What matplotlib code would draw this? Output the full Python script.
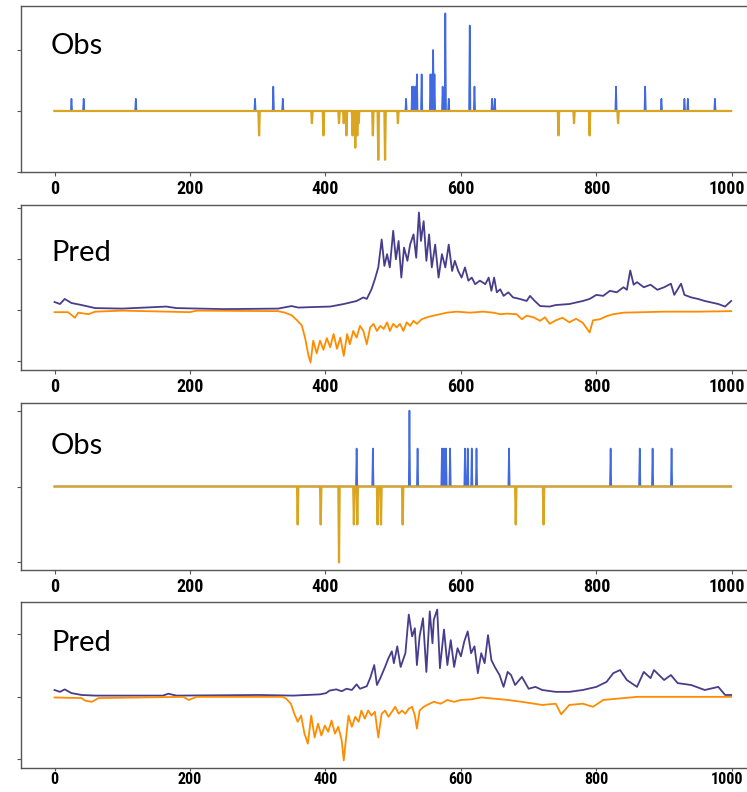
import numpy as np
import matplotlib
matplotlib.use('Agg')
import matplotlib.pyplot as plt
import matplotlib.transforms as mtransforms

# ---------------------------------------------------------------------
# data
# ---------------------------------------------------------------------
n_steps = 1000

# panel 1 (Obs): spike positions and counts
obs1_up_x = [25, 43, 120, 296, 323, 337, 519, 528, 530, 533, 535, 542, 555, 557, 559, 561,
             573, 577, 582, 613, 620, 646, 650, 829, 872, 896, 930, 935, 975]
obs1_up_n = [1, 1, 1, 1, 2, 1, 1, 2, 2, 2, 3, 3, 3, 3, 5, 3,
             2, 8, 1, 7, 2, 1, 1, 2, 2, 1, 1, 1, 1]
obs1_dn_x = [302, 380, 397, 420, 427, 431, 440, 444, 447, 449, 470, 478, 488, 507, 744, 767, 790, 832]
obs1_dn_n = [2, 1, 2, 1, 1, 2, 2, 3, 2, 1, 2, 4, 4, 1, 2, 1, 2, 1]

# panel 3 (Obs)
obs2_up_x = [446, 470, 524, 536, 572, 575, 578, 584, 606, 610, 616, 623, 671, 821, 864, 883, 911]
obs2_up_n = [1, 1, 2, 1, 1, 1, 1, 1, 1, 1, 1, 1, 1, 1, 1, 1, 1]
obs2_dn_x = [359, 393, 420, 442, 447, 477, 482, 514, 681, 722]
obs2_dn_n = [1, 1, 2, 1, 1, 1, 1, 1, 1, 1]

# panel 2 (Pred)
pred1_pos_x = [0, 8, 15, 25, 40, 60, 100, 165, 180, 250, 330, 350, 360, 380, 407, 427, 446, 456,
               461, 468, 473, 478, 483, 487, 491, 495, 500, 504, 508, 512, 516, 521, 525, 530,
               534, 538, 541, 545, 549, 553, 557, 562, 567, 572, 577, 582, 587, 591, 596, 601,
               606, 611, 616, 621, 628, 636, 641, 645, 649, 653, 658, 663, 670, 677, 687, 697,
               702, 709, 717, 731, 740, 760, 780, 790, 800, 810, 820, 830, 840, 845, 850, 855,
               860, 870, 880, 890, 900, 910, 915, 925, 930, 940, 950, 960, 970, 980, 990, 999]
pred1_pos_y = [0.16, 0.12, 0.22, 0.14, 0.10, 0.04, 0.03, 0.07, 0.04, 0.02, 0.03, 0.08, 0.05, 0.06,
               0.07, 0.12, 0.18, 0.25, 0.22, 0.41, 0.61, 0.84, 1.39, 0.87, 1.10, 0.84, 1.56, 1.00,
               1.36, 0.64, 1.23, 0.97, 1.29, 1.49, 1.03, 1.92, 1.36, 1.75, 0.97, 1.49, 0.84, 1.29,
               0.64, 1.10, 0.84, 1.29, 0.77, 0.97, 0.77, 0.64, 0.84, 0.58, 0.64, 0.51, 0.58, 0.51,
               0.64, 0.38, 0.64, 0.35, 0.41, 0.28, 0.35, 0.25, 0.22, 0.18, 0.28, 0.18, 0.08, 0.07,
               0.10, 0.12, 0.18, 0.22, 0.30, 0.28, 0.38, 0.35, 0.45, 0.40, 0.78, 0.50, 0.55, 0.45,
               0.50, 0.40, 0.45, 0.52, 0.30, 0.52, 0.30, 0.25, 0.22, 0.18, 0.15, 0.12, 0.07, 0.18]
pred1_neg_x = [0, 20, 30, 35, 50, 60, 100, 200, 210, 330, 340, 350, 358, 365, 370, 375, 378, 382,
               387, 392, 397, 402, 407, 412, 417, 422, 427, 432, 436, 441, 446, 451, 456, 461,
               466, 471, 476, 481, 486, 491, 495, 500, 505, 510, 515, 520, 525, 530, 535, 542,
               550, 559, 569, 579, 594, 613, 633, 648, 658, 668, 682, 690, 697, 707, 717, 724,
               731, 740, 750, 760, 770, 780, 790, 795, 805, 815, 825, 840, 870, 900, 950, 999]
pred1_neg_y = [-0.04, -0.04, -0.15, -0.05, -0.08, -0.03, -0.01, -0.04, -0.01, -0.02, -0.05, -0.10,
               -0.20, -0.30, -0.55, -0.90, -1.03, -0.60, -0.85, -0.60, -0.78, -0.55, -0.73, -0.47,
               -0.76, -0.54, -0.90, -0.47, -0.67, -0.41, -0.54, -0.31, -0.41, -0.67, -0.34, -0.27,
               -0.41, -0.31, -0.37, -0.24, -0.41, -0.27, -0.34, -0.27, -0.41, -0.24, -0.31, -0.21,
               -0.27, -0.18, -0.14, -0.11, -0.08, -0.05, -0.03, -0.05, -0.03, -0.05, -0.08, -0.07,
               -0.08, -0.18, -0.11, -0.14, -0.21, -0.14, -0.27, -0.20, -0.15, -0.24, -0.17, -0.25,
               -0.44, -0.20, -0.18, -0.12, -0.08, -0.05, -0.04, -0.03, -0.03, -0.02]

# panel 4 (Pred)
pred2_pos_x = [0, 8, 15, 25, 40, 60, 160, 168, 180, 302, 352, 392, 401, 406, 416, 424, 431, 439,
               446, 451, 461, 466, 472, 476, 481, 488, 493, 498, 501, 506, 511, 518, 523, 528,
               532, 535, 539, 544, 549, 554, 558, 560, 565, 569, 575, 580, 585, 590, 595, 600,
               605, 610, 615, 620, 625, 630, 635, 640, 645, 650, 657, 663, 669, 674, 680, 690,
               700, 710, 720, 740, 760, 780, 800, 815, 825, 835, 845, 860, 870, 880, 885, 900,
               910, 920, 940, 960, 980, 990, 999]
pred2_pos_y = [0.11, 0.08, 0.12, 0.06, 0.03, 0.02, 0.02, 0.05, 0.02, 0.03, 0.02, 0.04, 0.06, 0.10,
               0.12, 0.09, 0.13, 0.11, 0.20, 0.13, 0.17, 0.30, 0.51, 0.19, 0.30, 0.48, 0.62, 0.73,
               0.54, 0.81, 0.48, 0.70, 1.32, 0.97, 1.10, 0.51, 0.97, 1.26, 0.40, 1.37, 0.86, 1.24,
               1.40, 0.46, 1.08, 0.51, 0.91, 0.48, 0.78, 0.65, 0.89, 1.05, 0.70, 0.81, 0.38, 0.70,
               0.54, 0.99, 0.59, 0.48, 0.35, 0.16, 0.40, 0.35, 0.19, 0.32, 0.13, 0.16, 0.11, 0.08,
               0.08, 0.11, 0.16, 0.24, 0.38, 0.43, 0.27, 0.16, 0.40, 0.30, 0.43, 0.27, 0.35, 0.22,
               0.19, 0.11, 0.16, 0.03, 0.03]
pred2_neg_x = [0, 40, 45, 55, 65, 190, 198, 210, 300, 337, 342, 349, 354, 359, 364, 369, 374,
               379, 384, 389, 394, 399, 404, 409, 414, 419, 424, 427, 430, 434, 439, 444, 449,
               453, 458, 463, 468, 473, 478, 483, 488, 493, 498, 503, 508, 513, 518, 523, 528,
               532, 535, 539, 545, 550, 560, 570, 580, 590, 600, 615, 630, 650, 669, 690, 720,
               740, 748, 760, 780, 795, 810, 830, 860, 999]
pred2_neg_y = [-0.01, -0.02, -0.06, -0.08, -0.02, 0.0, -0.05, 0.0, 0.0, 0.0, -0.03, -0.11, -0.27,
               -0.40, -0.30, -0.59, -0.75, -0.30, -0.65, -0.43, -0.62, -0.46, -0.56, -0.38, -0.59,
               -0.48, -0.70, -1.02, -0.70, -0.30, -0.48, -0.32, -0.40, -0.22, -0.35, -0.22, -0.30,
               -0.24, -0.65, -0.27, -0.22, -0.32, -0.24, -0.16, -0.27, -0.22, -0.27, -0.19, -0.16,
               -0.30, -0.51, -0.22, -0.16, -0.13, -0.08, -0.11, -0.05, -0.08, -0.05, -0.04, -0.01,
               -0.03, -0.05, -0.08, -0.13, -0.11, -0.28, -0.13, -0.11, -0.16, -0.05, -0.03, 0.0, 0.0]

panel_labels = ["Obs", "Pred", "Obs", "Pred"]
xtick_vals = [0, 200, 400, 600, 800, 1000]
ytick_vals = [[-5, 0, 5], [-1, 0, 1, 2], [-2, 0, 2], [-1, 0, 1]]


def spikes(xs, ns, sign):
    arr = np.zeros(n_steps)
    for x, n in zip(xs, ns):
        arr[x] = sign * n
    return arr


# ---------------------------------------------------------------------
W, H = 747, 792
fig = plt.figure(figsize=(W / 100, H / 100), dpi=100)

# panel pixel extents (top, bottom)
extents = [(6, 172), (205, 370), (403, 570), (602, 768)]
left_px, right_px = 20.7, 765

axs = []
for top, bot in extents:
    ax = fig.add_axes([left_px / W, 1 - bot / H, (right_px - left_px) / W, (bot - top) / H])
    axs.append(ax)

t = np.arange(n_steps)

axs[0].plot(t, spikes(obs1_up_x, obs1_up_n, 1), color="royalblue", lw=1.2)
axs[0].plot(t, spikes(obs1_dn_x, obs1_dn_n, -1), color="goldenrod", lw=1.6)

axs[1].plot(pred1_pos_x, pred1_pos_y, color="darkslateblue", lw=1.3)
axs[1].plot(pred1_neg_x, pred1_neg_y, color="darkorange", lw=1.3)

axs[2].plot(t, spikes(obs2_up_x, obs2_up_n, 1), color="royalblue", lw=1.2)
axs[2].plot(t, spikes(obs2_dn_x, obs2_dn_n, -1), color="goldenrod", lw=1.6)

axs[3].plot(pred2_pos_x, pred2_pos_y, color="darkslateblue", lw=1.3)
axs[3].plot(pred2_neg_x, pred2_neg_y, color="darkorange", lw=1.3)

tick_font = ["Roboto Condensed", "Liberation Sans Narrow", "Liberation Sans"]
for i, ax in enumerate(axs):
    last_panel = (i == len(axs) - 1)
    ax.set_xlim(-49.95, 1048.95)
    ax.set_xticks(xtick_vals)
    ax.set_xticklabels([str(v) for v in xtick_vals], fontfamily=tick_font,
                       fontweight="bold", fontsize=11.5 if last_panel else 13)
    ax.set_yticks(ytick_vals[i])
    ax.tick_params(axis='y', labelleft=False, length=3, width=0.8, color="#555555")
    ax.tick_params(axis='x', length=2.5 if last_panel else 3, width=0.8, color="#555555",
                   pad=0.5 if last_panel else 3)
    for s in ax.spines.values():
        s.set_color("#555555")
        s.set_linewidth(1.0)
    # nudge the last label so it stays inside the picture
    last = ax.get_xticklabels()[-1]
    last.set_transform(last.get_transform() +
                       mtransforms.ScaledTranslation(-5 / 100, 0, fig.dpi_scale_trans))

# panel captions (pixel baselines)
baselines = [54, 261, 454, 651]
for lab, b in zip(panel_labels, baselines):
    fig.text(51 / W, 1 - b / H, lab, fontsize=21, family="Lato", va="baseline", ha="left")

plt.savefig("out.png", dpi=100)
